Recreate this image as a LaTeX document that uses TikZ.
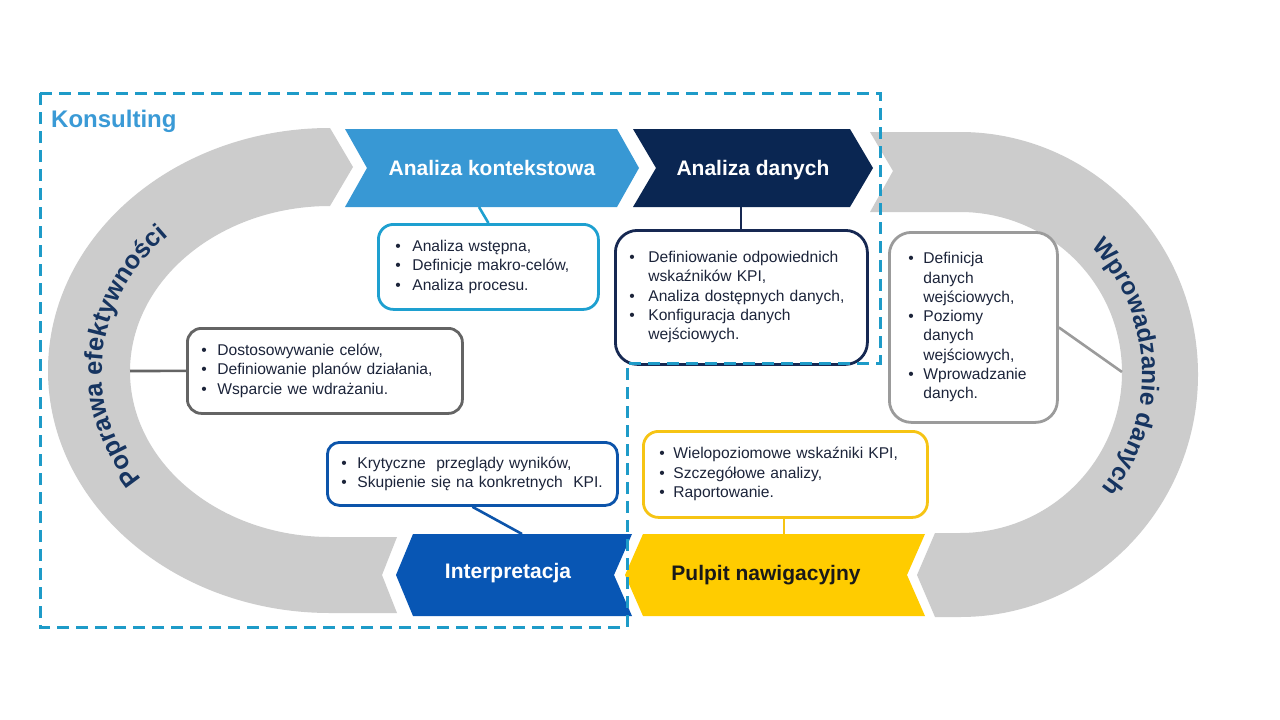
\documentclass[tikz,border=0pt]{standalone}
\usepackage{fontspec}
\setmainfont{Liberation Sans}
\usetikzlibrary{decorations.text}
\definecolor{grayarc}{RGB}{204,204,204}
\definecolor{akblue}{RGB}{56,152,212}
\definecolor{adnavy}{RGB}{10,38,82}
\definecolor{intblue}{RGB}{8,86,180}
\definecolor{pulyel}{RGB}{255,204,0}
\definecolor{konsblue}{RGB}{58,154,214}
\definecolor{dashblue}{RGB}{30,155,200}
\definecolor{akbord}{RGB}{30,160,208}
\definecolor{adbord}{RGB}{22,40,82}
\definecolor{wdbord}{RGB}{155,155,155}
\definecolor{pebord}{RGB}{100,100,100}
\definecolor{intbord}{RGB}{12,84,170}
\definecolor{pulbord}{RGB}{246,196,20}
\definecolor{txt}{RGB}{28,36,58}
\definecolor{arctxt}{RGB}{22,52,96}
\newcommand{\bodyfs}{\fontsize{15.6}{19.3}\selectfont}
\newcommand{\chevfs}{\fontsize{21}{24}\selectfont\bfseries}
\newcommand{\arcfs}{\fontsize{24.5}{26}\selectfont\bfseries}
\newcommand{\arcfsl}{\fontsize{25.5}{27}\selectfont\bfseries}
\newcommand{\blist}[2]{\begin{tabular}{@{}p{#1}@{}l@{}}#2\end{tabular}}
\tikzset{
  infobox/.style={draw=#1, line width=2.8pt, fill=white, inner ysep=0pt,
    align=left, font=\bodyfs, text=txt, anchor=north west},
  chevlabel/.style={font=\chevfs, text=white},
  link/.style={line width=2.6pt, draw=#1},
  consult/.style={draw=dashblue, line width=3pt, dash pattern=on 12pt off 7pt}
}
\begin{document}
\begin{tikzpicture}[x=1pt,y=-1pt]
\useasboundingbox (0,0) rectangle (1280,720);
\fill[white] (0,0) rectangle (1280,720);

% grey arcs
\fill[grayarc] (330,128) -- (353,167) -- (330,206)
  arc[start angle=270, end angle=90, x radius=200, y radius=165.5]
  -- (397,537) -- (382,575) -- (397,613) -- (330,613)
  arc[start angle=90, end angle=270, x radius=282, y radius=242.5] -- cycle;
\fill[grayarc] (870,132) -- (960,132)
  arc[start angle=-90, end angle=90, x radius=238, y radius=242.5]
  -- (935,617) -- (917,575) -- (935,533) -- (960,533)
  arc[start angle=90, end angle=-90, x radius=162, y radius=160.5]
  -- (870,212) -- (893,171) -- cycle;

% arc labels
\path[decorate, decoration={text along path, text align=center, text color=arctxt,
  text={|\arcfsl|Poprawa efektywności}}]
  (330,371) ++(126:228 and 192) arc[start angle=126, end angle=244, x radius=228, y radius=192];
\path[decorate, decoration={text along path, text align=center, text color=arctxt,
  text={|\arcfs|Wprowadzanie danych}}]
  (960,373.5) ++(-64:182) arc[start angle=-64, end angle=59, radius=182];

% chevrons
\fill[akblue] (345,129) -- (617,129) -- (639,168) -- (617,207) -- (345,207) -- (367,168) -- cycle;
\fill[adnavy] (633,129) -- (850,129) -- (873,168) -- (850,207) -- (633,207) -- (656,168) -- cycle;
\fill[intblue] (413,534) -- (632,534) -- (614,575) -- (632,616) -- (413,616) -- (396,575) -- cycle;
\fill[pulyel] (643,534) -- (925,534) -- (907,575) -- (925,616) -- (643,616) -- (625,575) -- cycle;
\node[chevlabel] (ak) at (492,168) {Analiza kontekstowa};
\node[chevlabel] (ad) at (753,170) {Analiza danych};
\node[chevlabel] (int) at (508,573) {Interpretacja};
\node[chevlabel, text=black!90] (pul) at (766,575) {Pulpit nawigacyjny};

\coordinate (akB) at (479,207);
\coordinate (adB) at (741,207);
\coordinate (intT) at (522,534);
\coordinate (pulT) at (784,534);
\coordinate (peArc) at (130,371);
\coordinate (wdArc) at (1122,372);

% boxes
\node[infobox=akbord, rounded corners=15pt, inner xsep=17pt, text width=186pt, minimum height=85pt]
  (akbox) at (377,223) {\blist{17pt}{\textbullet & Analiza wstępna,\\ \textbullet & Definicje makro-celów,\\ \textbullet & Analiza procesu.}};
\node[infobox=adbord, rounded corners=22pt, inner xsep=14pt, text width=224pt, minimum height=134pt]
  (adbox) at (614,229) {\blist{19pt}{\textbullet & Definiowanie odpowiednich\\ & wskaźników KPI,\\ \textbullet & Analiza dostępnych danych,\\ \textbullet & Konfiguracja danych\\ & wejściowych.}};
\node[infobox=wdbord, rounded corners=22pt, inner xsep=19pt, text width=130pt, minimum height=190pt]
  (wdbox) at (888,231) {\blist{15pt}{\textbullet & Definicja\\ & danych\\ & wejściowych,\\ \textbullet & Poziomy\\ & danych\\ & wejściowych,\\ \textbullet & Wprowadzanie\\ & danych.}};
\node[infobox=pebord, rounded corners=14pt, inner xsep=14pt, text width=247pt, minimum height=85pt]
  (pebox) at (186,327) {\blist{16pt}{\textbullet & Dostosowywanie celów,\\ \textbullet & Definiowanie planów działania,\\ \textbullet & Wsparcie we wdrażaniu.}};
\node[infobox=intbord, rounded corners=12pt, inner xsep=14pt, text width=262pt, minimum height=63pt]
  (intbox) at (326,441) {\blist{16pt}{\textbullet & Krytyczne\ \ przeglądy wyników,\\ \textbullet & Skupienie się na konkretnych\ \ KPI.}};
\node[infobox=pulbord, rounded corners=15pt, inner xsep=16pt, text width=252pt, minimum height=86pt]
  (pulbox) at (642,430) {\blist{14pt}{\textbullet & Wielopoziomowe wskaźniki KPI,\\ \textbullet & Szczegółowe analizy,\\ \textbullet & Raportowanie.}};

% connectors
\draw[link=akbord] (akB) -- (akbox.north);
\draw[link=adbord] (adB) -- (adB |- adbox.north);
\draw[link=wdbord] (wdbox.east) -- (wdArc);
\draw[link=pebord] (peArc) -- (pebox.west);
\draw[link=intbord] (intbox.south) -- (intT);
\draw[link=pulbord] (pulT |- pulbox.south) -- (pulT);

% consulting frame
\draw[consult] (40,93) -- (880,93) -- (880,363) -- (627,363) -- (627,627) -- (40,627) -- cycle;
\node[anchor=base west, font=\fontsize{24}{27}\selectfont\bfseries, text=konsblue, inner sep=0pt]
  (kons) at (51,127) {Konsulting};
\end{tikzpicture}
\end{document}
